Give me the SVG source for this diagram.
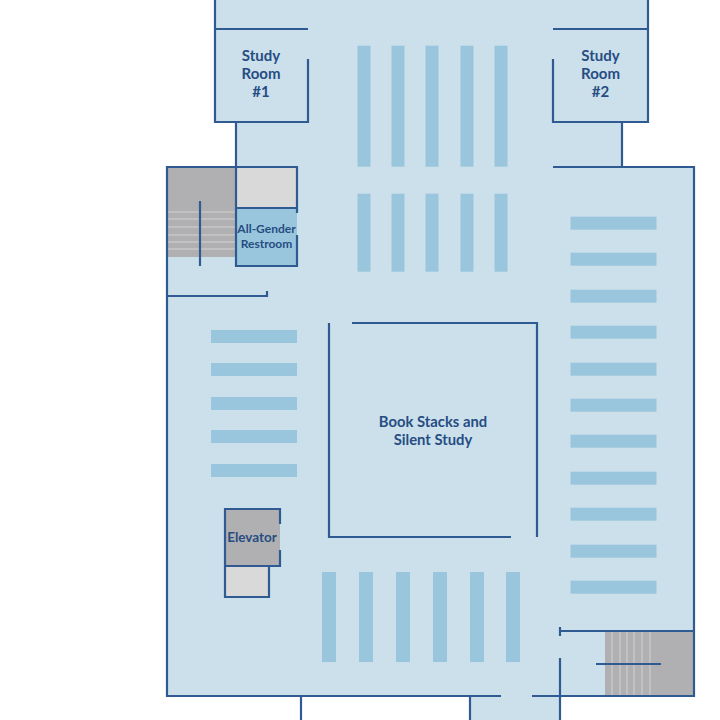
<svg xmlns="http://www.w3.org/2000/svg" width="720" height="720" viewBox="0 0 720 720">
<style>
.wall{fill:none;stroke:#2f5a92;stroke-width:2.2}
.stack{fill:#99c6dc}
.step{stroke:#c6c6c8;stroke-width:1.5;fill:none}
.lbl{font-family:Lato,"Liberation Sans",sans-serif;font-weight:700;fill:#264d82;text-anchor:middle}
</style>
<rect width="720" height="720" fill="#fff"/>
<g id="floor"><path d="M215 0H648V122H622V167H694V696H560V720H470V696H167V167H236V122H215Z" fill="#cce0ec"/></g>
<g id="stacks">
<g class="stack" transform="translate(-0.5 -0.3)"><rect x="358" y="46" width="13" height="121"/><rect x="392" y="46" width="13" height="121"/><rect x="426" y="46" width="13" height="121"/><rect x="461" y="46" width="13" height="121"/><rect x="495" y="46" width="13" height="121"/>
<rect x="358" y="194" width="13" height="78"/><rect x="392" y="194" width="13" height="78"/><rect x="426" y="194" width="13" height="78"/><rect x="461" y="194" width="13" height="78"/><rect x="495" y="194" width="13" height="78"/>
<rect x="571" y="217" width="86" height="13"/><rect x="571" y="253" width="86" height="13"/><rect x="571" y="290" width="86" height="13"/><rect x="571" y="326" width="86" height="13"/><rect x="571" y="363" width="86" height="13"/><rect x="571" y="399" width="86" height="13"/><rect x="571" y="435" width="86" height="13"/><rect x="571" y="472" width="86" height="13"/><rect x="571" y="508" width="86" height="13"/><rect x="571" y="545" width="86" height="13"/><rect x="571" y="581" width="86" height="13"/></g>
<g class="stack"><rect x="211" y="330" width="86" height="13"/><rect x="211" y="363" width="86" height="13"/><rect x="211" y="397" width="86" height="13"/><rect x="211" y="430" width="86" height="13"/><rect x="211" y="464" width="86" height="13"/>
<rect x="322" y="572" width="14" height="90"/><rect x="359" y="572" width="14" height="90"/><rect x="396" y="572" width="14" height="90"/><rect x="433" y="572" width="14" height="90"/><rect x="470" y="572" width="14" height="90"/><rect x="506" y="572" width="14" height="90"/>
</g></g>
<g id="stairs-nw"><rect x="167" y="167" width="69" height="90" fill="#b0b0b3"/><path class="step" d="M167 212H236M167 219H236M167 227H236M167 235H236M167 242H236M167 249H236"/></g>
<g id="stairs-se"><rect x="605" y="632" width="89" height="64" fill="#b0b0b3"/><path class="step" d="M612 632V696M620 632V696M627 632V696M634 632V696M642 632V696M650 632V696"/></g>
<g id="closet"><rect x="236" y="167" width="61" height="41" fill="#d9d9da"/></g>
<g id="restroom"><rect x="236" y="208" width="61" height="58" fill="#99c6dc"/><text class="lbl" x="266.5" y="233" font-size="12">All-Gender</text><text class="lbl" x="266.5" y="248" font-size="12">Restroom</text></g>
<g id="elevator"><rect x="225" y="509" width="55" height="57" fill="#b0b0b3"/><rect x="225" y="566" width="44" height="31" fill="#d9d9da"/><text class="lbl" x="252" y="542" font-size="13.5">Elevator</text></g>
<g id="study1"><text class="lbl" x="261" y="60.500" font-size="15">Study</text><text class="lbl" x="261" y="78.500" font-size="15">Room</text><text class="lbl" x="261" y="96.500" font-size="15">#1</text></g>
<g id="study2"><text class="lbl" x="600.500" y="60.500" font-size="15">Study</text><text class="lbl" x="600.500" y="78.500" font-size="15">Room</text><text class="lbl" x="600.500" y="96.500" font-size="15">#2</text></g>
<g id="stacks-room"><text class="lbl" x="433" y="426.500" font-size="14.800">Book Stacks and</text><text class="lbl" x="433" y="444.500" font-size="14.800">Silent Study</text></g>
<g id="connectors" class="wall">
<path d="M215 0V122H308V59M215 29H308M236 122V167"/>
<path d="M648 0V122H553V59M648 29H553M622 122V167"/>
<path d="M553 167H694V696H532M501 696H167V167H297V213M297 235V266H236V167M236 208H297"/>
<path d="M200 201V266M167 296H267V291"/>
<path d="M329 323V537H511M352 323H537V537"/>
<path d="M280 524V509H225V597H269V566M225 566H280V550"/>
<path d="M560 627V636M560 631H694M596 664H661M560 658V720M301 696V720M470 696V720"/>
</g>
</svg>
